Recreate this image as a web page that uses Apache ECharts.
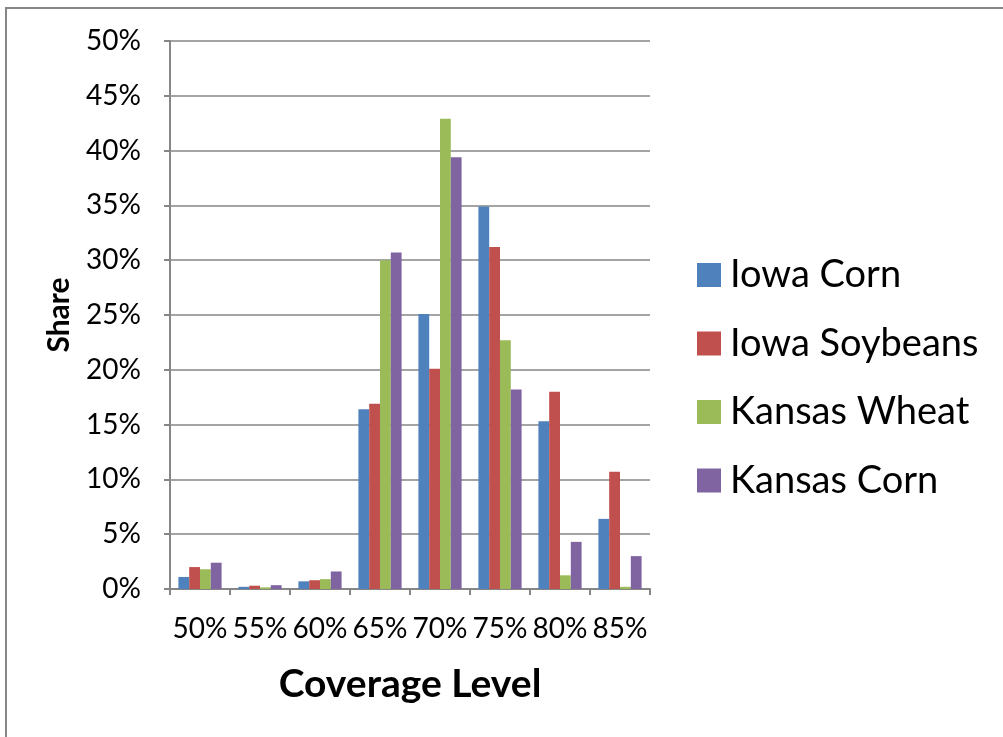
<!DOCTYPE html>
<html>
<head>
    <meta charset="utf-8" />
    <title>Coverage Level</title>
    <script src="https://cdn.jsdelivr.net/npm/echarts@6.0.0/dist/echarts.min.js"></script>
</head>
<body style="margin:0">
    <div id="main" style="width: 1003px;height:737px;"></div>
    <script type="text/javascript">
        var myChart = echarts.init(document.getElementById('main'));

        // coverage levels
        var categories = ['50%', '55%', '60%', '65%', '70%', '75%', '80%', '85%'];
        // shares in percent
        var iowaCorn = [1.1, 0.2, 0.7, 16.4, 25.1, 34.9, 15.3, 6.4];
        var iowaSoybeans = [2.0, 0.3, 0.8, 16.9, 20.1, 31.2, 18.0, 10.7];
        var kansasWheat = [1.8, 0.15, 0.9, 30.0, 42.9, 22.7, 1.25, 0.2];
        var kansasCorn = [2.4, 0.35, 1.6, 30.7, 39.4, 18.2, 4.3, 3.0];

        var font = 'Lato';
        var gray = '#868686';

        function bar(name, data, color) {
            return {
                name: name,
                type: 'bar',
                data: data,
                barGap: '0%',
                barCategoryGap: '28%',
                itemStyle: { color: color }
            };
        }

        var option = {
            animation: false,
            textStyle: { fontFamily: font },
            graphic: [{
                type: 'rect',
                shape: { x: 6, y: 8, width: 1200, height: 900 },
                style: { fill: 'none', stroke: gray, lineWidth: 2 }
            }],
            grid: { left: 170, right: 353, top: 41, bottom: 148 },
            legend: {
                orient: 'vertical',
                left: 692,
                top: 251,
                itemWidth: 24,
                itemHeight: 24,
                itemGap: 30.5,
                icon: 'rect',
                textStyle: { fontFamily: font, fontSize: 38, lineHeight: 37, color: '#000', padding: [0, 0, 0, 4] },
                data: ['Iowa Corn', 'Iowa Soybeans', 'Kansas Wheat', 'Kansas Corn']
            },
            xAxis: {
                type: 'category',
                data: categories,
                name: 'Coverage Level',
                nameLocation: 'middle',
                nameGap: 76,
                nameTextStyle: { fontFamily: font, fontSize: 39, fontWeight: 'bold', color: '#000' },
                axisLine: { lineStyle: { color: gray, width: 2 } },
                axisTick: { show: true, length: 6, lineStyle: { color: gray, width: 2 } },
                axisLabel: { fontFamily: font, fontSize: 28, color: '#000', margin: 26, interval: 0 }
            },
            yAxis: {
                type: 'value',
                min: 0,
                max: 50,
                interval: 5,
                name: 'Share',
                nameLocation: 'middle',
                nameGap: 96,
                nameTextStyle: { fontFamily: font, fontSize: 30, fontWeight: 'bold', color: '#000' },
                axisLine: { show: true, lineStyle: { color: gray, width: 2 } },
                axisTick: { show: true, length: 6, lineStyle: { color: gray, width: 2 } },
                axisLabel: { fontFamily: font, fontSize: 28, color: '#000', margin: 29, formatter: '{value}%' },
                splitLine: { lineStyle: { color: gray, width: 1.5 } }
            },
            series: [
                bar('Iowa Corn', iowaCorn, '#4F81BD'),
                bar('Iowa Soybeans', iowaSoybeans, '#C0504D'),
                bar('Kansas Wheat', kansasWheat, '#9BBB59'),
                bar('Kansas Corn', kansasCorn, '#8064A2')
            ]
        };

        myChart.setOption(option);
    </script>
</body>
</html>
